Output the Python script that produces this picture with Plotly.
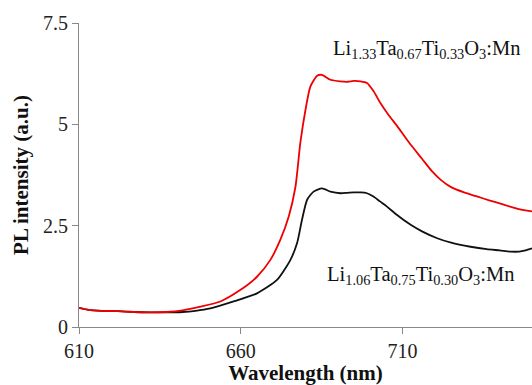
import plotly.graph_objects as go

# Wavelength (nm) and PL intensity (a.u.)
wl_red = [610, 613, 617, 622, 627, 632, 637, 642, 647.5, 653.7, 659.8, 665.0, 669.1, 672.2,
          674.8, 676.9, 678.4, 680.0, 681.5, 683.6, 685.1, 687.7, 690.8, 693, 695, 697, 699,
          701, 703.2, 705.5, 708.4, 712, 716, 719, 721.8, 725, 729, 733, 737, 740, 744, 747, 750]
pl_red = [0.47, 0.42, 0.40, 0.39, 0.37, 0.36, 0.37, 0.41, 0.50, 0.63, 0.91, 1.24, 1.65, 2.15,
          2.72, 3.46, 4.54, 5.36, 5.93, 6.20, 6.22, 6.10, 6.06, 6.05, 6.07, 6.06, 6.02,
          5.82, 5.52, 5.25, 4.95, 4.55, 4.15, 3.85, 3.63, 3.45, 3.32, 3.22, 3.12, 3.05, 2.95, 2.89, 2.85]

wl_black = [610, 613, 617, 622, 627, 632, 637, 642, 646, 650.6, 657.8, 665.0, 671.2, 675.3,
            677.4, 678.9, 680.5, 682.5, 685.1, 687.7, 690.8, 693, 695, 697, 699, 701, 703,
            705.2, 708, 712.5, 716, 720.7, 725, 731, 736, 740, 743.4, 746, 748, 750]
pl_black = [0.47, 0.42, 0.40, 0.39, 0.37, 0.36, 0.36, 0.37, 0.40, 0.46, 0.63, 0.83, 1.16, 1.65,
            2.07, 2.64, 3.14, 3.34, 3.42, 3.34, 3.30, 3.31, 3.32, 3.32, 3.30, 3.22, 3.10,
            2.97, 2.78, 2.52, 2.36, 2.19, 2.08, 1.98, 1.92, 1.89, 1.86, 1.86, 1.89, 1.94]

x_ticks = [610, 660, 710]
y_ticks = [0, 2.5, 5, 7.5]
y_tick_labels = ["0", "2.5", "5", "7.5"]

label_red = "Li<sub>1.33</sub>Ta<sub>0.67</sub>Ti<sub>0.33</sub>O<sub>3</sub>:Mn"
label_black = "Li<sub>1.06</sub>Ta<sub>0.75</sub>Ti<sub>0.30</sub>O<sub>3</sub>:Mn"

FONT = "Liberation Serif, Times New Roman, serif"

fig = go.Figure()
fig.add_trace(go.Scatter(x=wl_black, y=pl_black, mode="lines",
                         line=dict(color="#111111", width=1.8, shape="spline", smoothing=0.6),
                         showlegend=False))
fig.add_trace(go.Scatter(x=wl_red, y=pl_red, mode="lines",
                         line=dict(color="#ee0000", width=1.8, shape="spline", smoothing=0.6),
                         showlegend=False))

fig.add_annotation(x=717.5, y=6.84, text=label_red, showarrow=False,
                   font=dict(family=FONT, size=20.5, color="#111111"))
fig.add_annotation(x=715.4, y=1.28, text=label_black, showarrow=False,
                   font=dict(family=FONT, size=20.5, color="#111111"))

fig.update_layout(
    width=532, height=385,
    margin=dict(l=79, r=0, t=23, b=58),
    paper_bgcolor="white", plot_bgcolor="white",
    font=dict(family=FONT, size=20, color="#222222"),
    xaxis=dict(range=[610, 750], tickvals=x_ticks, ticks="outside", ticklen=6,
               tickcolor="#888888", showline=True, linecolor="#888888", linewidth=1,
               showgrid=False, zeroline=False,
               tickfont=dict(family=FONT, size=20, color="#222222"),
               title=dict(text="<b>Wavelength (nm)</b>", standoff=2,
                          font=dict(family=FONT, size=21, color="#111111"))),
    yaxis=dict(range=[0, 7.5], tickvals=y_ticks, ticktext=y_tick_labels, ticks="outside",
               ticklen=6, tickcolor="#888888", showline=True, linecolor="#888888", linewidth=1,
               showgrid=False, zeroline=False,
               tickfont=dict(family=FONT, size=20, color="#222222"),
               title=dict(text="<b>PL intensity (a.u.)</b>", standoff=8,
                          font=dict(family=FONT, size=21, color="#111111"))),
)

fig.write_html("out.html")
